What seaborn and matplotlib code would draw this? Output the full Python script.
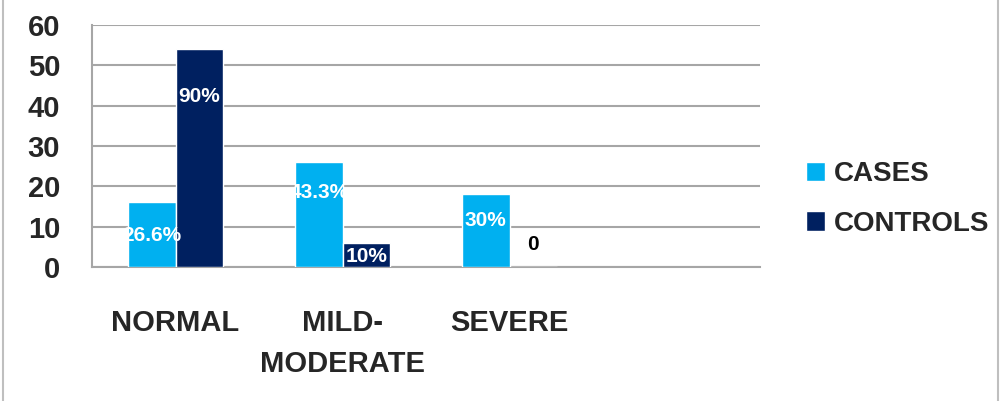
import matplotlib
matplotlib.use("Agg")
import matplotlib.pyplot as plt
from matplotlib.lines import Line2D
from matplotlib.ticker import FixedLocator
import seaborn as sns
import pandas as pd

categories = ["NORMAL", "MILD-\nMODERATE", "SEVERE"]
groups = ["CASES", "CONTROLS"]
cases = [16, 26, 18]
controls = [54, 6, 0]
cases_labels = ["26.6%", "43.3%", "30%"]
controls_labels = ["90%", "10%", "0"]

# where Excel put the value labels (y in data units)
cases_label_y = [7.7, 18.4, 11.6]
controls_label_y = [42.2, 2.7, 5.5]

colors = ["#00B0F0", "#002060"]
grid_color = "#A6A6A6"

df = pd.DataFrame({
    "category": categories * 2,
    "group": [groups[0]] * 3 + [groups[1]] * 3,
    "count": cases + controls,
})

sns.set_style("white")
plt.rcParams["font.family"] = ["Liberation Sans", "DejaVu Sans"]
plt.rcParams["font.weight"] = "bold"

fig = plt.figure(figsize=(10, 4.01), dpi=100)
ax = fig.add_axes([0.092, 0.334, 0.668, 0.604])

sns.barplot(data=df, x="category", y="count", hue="group", order=categories,
            hue_order=groups, palette=colors, saturation=1, width=0.57,
            ax=ax, zorder=3)

ax.set_xlim(-0.5, 3.5)
ax.set_ylim(0, 60)
ax.set_yticks(range(0, 61, 10))
ax.yaxis.grid(True, color=grid_color, linewidth=1.5, zorder=0)
ax.set_axisbelow(True)
ax.set_xlabel("")
ax.set_ylabel("")

for s in ["top", "right"]:
    ax.spines[s].set_visible(False)
for s in ["left", "bottom"]:
    ax.spines[s].set_color(grid_color)
    ax.spines[s].set_linewidth(1.5)

ax.tick_params(axis="y", length=9, width=1.5, color=grid_color, pad=14,
               labelsize=21)
ax.tick_params(axis="x", which="major", length=0, pad=30, labelsize=21)
ax.xaxis.set_minor_locator(FixedLocator([-0.5, 0.5, 1.5, 2.5, 3.5]))
ax.tick_params(axis="x", which="minor", length=8, width=1.5,
               color=grid_color, direction="out")
for lab in ax.get_xticklabels():
    lab.set_fontweight("bold")
    lab.set_linespacing(1.6)
for lab in ax.get_yticklabels():
    lab.set_fontweight("bold")

# value labels
for cont, labels, ys in zip(ax.containers, [cases_labels, controls_labels],
                            [cases_label_y, controls_label_y]):
    for patch, txt, y in zip(cont.patches, labels, ys):
        xc = patch.get_x() + patch.get_width() / 2
        col = "black" if txt == "0" else "white"
        ax.text(xc, y, txt, ha="center", va="center", fontsize=15,
                fontweight="bold", color=col, zorder=5)

leg = ax.legend(loc="center left", bbox_to_anchor=(0.792, 0.504),
                bbox_transform=fig.transFigure, frameon=False, fontsize=20,
                handlelength=0.7, handleheight=0.7, handletextpad=0.3,
                labelspacing=0.85, borderpad=0)
for t in leg.get_texts():
    t.set_fontweight("bold")

# chart-area frame edges
fig.add_artist(Line2D([0.003, 0.003], [0, 1], transform=fig.transFigure,
                      color="#BFBFBF", linewidth=1.5))
fig.add_artist(Line2D([0.998, 0.998], [0, 1], transform=fig.transFigure,
                      color="#BFBFBF", linewidth=1.5))

fig.savefig("out.png", dpi=100)
